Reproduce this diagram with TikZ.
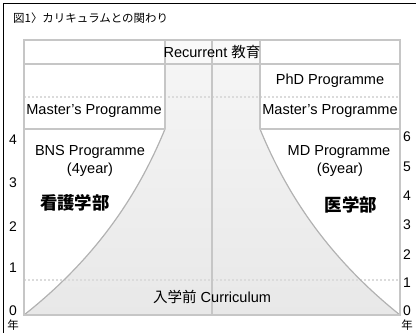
\documentclass[tikz,border=0pt]{standalone}
\usepackage{fontspec}
\setmainfont{Liberation Sans}
\newfontfamily\jp{Noto Sans CJK JP}
\begin{document}
\begin{tikzpicture}[x=1bp,y=-1bp,
  gridline/.style={draw=gray!45, line width=1.6bp},
  dotline/.style={draw=gray!28, line width=1.6bp, dash pattern=on 2bp off 2bp},
  curveline/.style={draw=gray!60, line width=1.2bp},
  lbl/.style={font=\fontsize{14.6}{16}\selectfont, inner sep=0pt},
  num/.style={font=\fontsize{14}{15}\selectfont, inner sep=0pt},
  nen/.style={font=\jp\fontsize{11.5}{13}\selectfont, inner sep=0pt},
  kanji/.style={font=\jp\bfseries\fontsize{17.5}{20}\selectfont, inner sep=0pt}]
\useasboundingbox (0,0) rectangle (416,333);
% outer frame (left and top)
\draw[black, line width=1bp] (3,333) -- (3,3) -- (416,3);
% title
\node[anchor=west, inner sep=0pt, font=\jp\fontsize{11.5}{13}\selectfont] (title) at (13,18) {図1〉カリキュラムとの関わり};
% top cell
\fill[gray!5] (165,40) rectangle (260,64);
% shaded curriculum region
\path[top color=gray!8, bottom color=gray!18]
  (165,64) -- (260,64) -- (260,129)
  .. controls (285,190) and (325,255) .. (400,315)
  -- (24,315)
  .. controls (100,255) and (140,190) .. (165,129) -- cycle;
% dotted lines
\draw[dotline] (24,97) -- (400,97);
\draw[dotline] (24,280) -- (400,280);
% curves
\draw[curveline] (24,315) .. controls (100,255) and (140,190) .. (165,129);
\draw[curveline] (260,129) .. controls (285,190) and (325,255) .. (400,315);
% grid lines
\draw[gridline] (24,40) rectangle (400,315);
\draw[gridline] (24,64) -- (400,64);
\draw[gridline] (24,129) -- (165,129);
\draw[gridline] (260,129) -- (400,129);
\draw[gridline] (165,40) -- (165,129);
\draw[gridline] (260,40) -- (260,129);
\draw[gridline] (212,40) -- (212,315);
% labels
\node[lbl] (rec) at (212,52) {Recurrent {\jp 教育}};
\node[lbl] (phd) at (330,81) {PhD Programme};
\node[lbl] (msl) at (94,111) {Master's Programme};
\node[lbl] (msr) at (330,111) {Master's Programme};
\node[lbl] (bns) at (90,152) {BNS Programme};
\node[lbl] (bnsy) at (90,170) {(4year)};
\node[lbl] (md) at (339,152) {MD Programme};
\node[lbl] (mdy) at (340,170) {(6year)};
\node[kanji] (kango) at (75,203) {看護学部};
\node[kanji] (igaku) at (351,205) {医学部};
\node[lbl] (pre) at (212,297) {{\jp 入学前} Curriculum};
% left axis
\node[num] (l4) at (13,140) {4};
\node[num] (l3) at (13,183) {3};
\node[num] (l2) at (13,227) {2};
\node[num] (l1) at (13,268) {1};
\node[num] (l0) at (13,311) {0};
\node[nen] (ln) at (13,325) {年};
% right axis
\node[num] (r6) at (407,137) {6};
\node[num] (r5) at (407,167) {5};
\node[num] (r4) at (407,196) {4};
\node[num] (r3) at (407,225) {3};
\node[num] (r2) at (407,255) {2};
\node[num] (r1) at (407,283) {1};
\node[num] (r0) at (407,311) {0};
\node[nen] (rn) at (407,325) {年};
\end{tikzpicture}
\end{document}
